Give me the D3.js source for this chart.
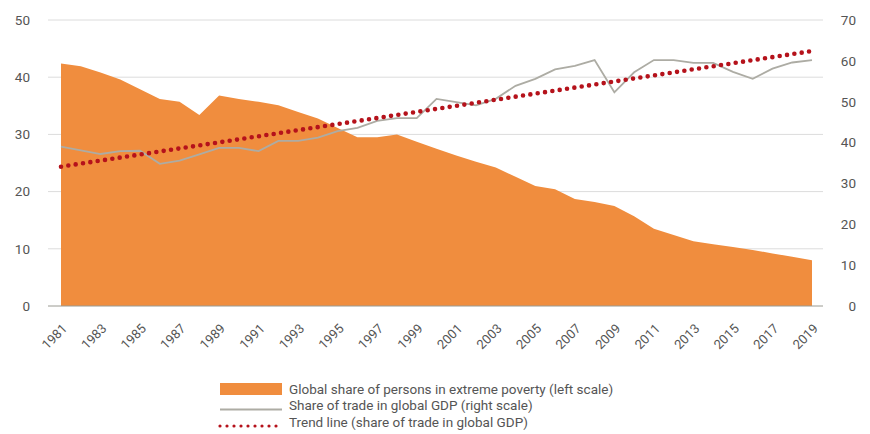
<!DOCTYPE html>
<html>
<head>
<meta charset="utf-8">
<script src="https://cdn.jsdelivr.net/npm/d3@7"></script>
<style>
	body { margin: 0; background: #fff; }
	text { font-family: Roboto, "DejaVu Sans", sans-serif; fill: #555; }
</style>
</head>
<body>
<div id="container"></div>
<script>
var width = 870, height = 434;

var years = [1981, 1982, 1983, 1984, 1985, 1986, 1987, 1988, 1989, 1990,
	1991, 1992, 1993, 1994, 1995, 1996, 1997, 1998, 1999, 2000,
	2001, 2002, 2003, 2004, 2005, 2006, 2007, 2008, 2009, 2010,
	2011, 2012, 2013, 2014, 2015, 2016, 2017, 2018, 2019];

// global share of persons in extreme poverty, left scale (%)
var poverty = [42.4, 41.9, 40.8, 39.6, 37.9, 36.2, 35.7, 33.4, 36.8, 36.2,
	35.7, 35.1, 33.9, 32.8, 31.1, 29.5, 29.5, 30.0, 28.7, 27.5,
	26.3, 25.2, 24.2, 22.6, 21.0, 20.4, 18.7, 18.2, 17.5, 15.7,
	13.5, 12.4, 11.3, 10.8, 10.3, 9.8, 9.2, 8.6, 8.0];

// share of trade in global GDP, right scale (%)
var trade = [39.0, 38.1, 37.2, 37.9, 38.0, 34.8, 35.6, 37.1, 38.7, 38.7,
	37.9, 40.4, 40.4, 41.2, 42.8, 43.6, 45.3, 46.0, 46.0, 50.7,
	49.9, 49.1, 50.7, 53.9, 55.6, 57.9, 58.8, 60.2, 52.3, 57.2,
	60.2, 60.2, 59.5, 59.5, 57.3, 55.6, 58.1, 59.6, 60.2];

// trend line end points (right scale)
var trendYears = [1981, 2019];
var trendValues = [34.1, 62.4];

var leftTicks = [0, 10, 20, 30, 40, 50];
var rightTicks = [0, 10, 20, 30, 40, 50, 60, 70];
var xTicks = years.filter(function(y){ return y % 2 === 1; });

var legendLabels = [
	"Global share of persons in extreme poverty (left scale)",
	"Share of trade in global GDP (right scale)",
	"Trend line (share of trade in global GDP)"
];

var orange = "#f08d3e", grey = "#adaca4", red = "#b5121b";

var xScale = d3.scaleLinear().domain([1981, 2019]).range([61, 812]);
var yLeft = d3.scaleLinear().domain([0, 50]).range([306, 20]);
var yRight = d3.scaleLinear().domain([0, 70]).range([306, 20]);

var plotLeft = 48, plotRight = 823;

function visualize() {
	var svg = d3.select('#container')
		.append('svg')
		.attr('width', width)
		.attr('height', height);

	// grid lines
	svg.append('g').selectAll('line').data(leftTicks.slice(1)).enter()
		.append('line')
		.attr('x1', plotLeft).attr('x2', plotRight)
		.attr('y1', function(d){ return yLeft(d); })
		.attr('y2', function(d){ return yLeft(d); })
		.attr('stroke', '#dcdcdc')
		.attr('stroke-width', 1);

	// poverty area
	var area = d3.area()
		.x(function(d, i){ return xScale(years[i]); })
		.y0(yLeft(0))
		.y1(function(d){ return yLeft(d); });
	svg.append('path')
		.attr('d', area(poverty))
		.attr('fill', orange);

	// baseline
	svg.append('line')
		.attr('x1', plotLeft).attr('x2', plotRight)
		.attr('y1', yLeft(0)).attr('y2', yLeft(0))
		.attr('stroke', '#9a9a92')
		.attr('stroke-width', 1);

	// trade line
	var line = d3.line()
		.x(function(d, i){ return xScale(years[i]); })
		.y(function(d){ return yRight(d); });
	svg.append('path')
		.attr('d', line(trade))
		.attr('fill', 'none')
		.attr('stroke', grey)
		.attr('stroke-width', 1.8);

	// trend line
	var trendLine = d3.line()
		.x(function(d, i){ return xScale(trendYears[i]); })
		.y(function(d){ return yRight(d); });
	svg.append('path')
		.attr('d', trendLine(trendValues))
		.attr('fill', 'none')
		.attr('stroke', red)
		.attr('stroke-width', 4.6)
		.attr('stroke-linecap', 'round')
		.attr('stroke-dasharray', '0 7.42');

	// left axis
	var yAxisL = d3.axisLeft(yLeft).tickValues(leftTicks).tickSize(0).tickPadding(0);
	var gl = svg.append('g')
		.attr('transform', 'translate(30,0)')
		.call(yAxisL);
	gl.select('.domain').remove();
	gl.selectAll('text').style('font-size', '13.5px').attr('fill', '#555');

	// right axis
	var yAxisR = d3.axisRight(yRight).tickValues(rightTicks).tickSize(0).tickPadding(0);
	var gr = svg.append('g')
		.attr('transform', 'translate(856,0)')
		.call(yAxisR);
	gr.select('.domain').remove();
	gr.selectAll('text').style('font-size', '13.5px').attr('fill', '#555')
		.attr('text-anchor', 'end');

	// x axis
	var xAxis = d3.axisBottom(xScale).tickValues(xTicks).tickFormat(d3.format('d')).tickSize(0);
	var gx = svg.append('g')
		.attr('transform', 'translate(0,' + yLeft(0) + ')')
		.call(xAxis);
	gx.select('.domain').remove();
	gx.selectAll('text')
		.style('font-size', '13px')
		.attr('fill', '#555')
		.attr('text-anchor', 'end')
		.attr('dy', null)
		.attr('y', 0)
		.attr('transform', 'translate(4,21) rotate(-45)')
		.attr('dominant-baseline', 'middle');

	// legend
	var lg = svg.append('g').attr('transform', 'translate(220,389)');
	lg.append('rect')
		.attr('x', 0).attr('y', -6)
		.attr('width', 62).attr('height', 12)
		.attr('fill', orange);
	lg.append('line')
		.attr('x1', 0).attr('x2', 62)
		.attr('y1', 20.5).attr('y2', 20.5)
		.attr('stroke', grey).attr('stroke-width', 1.8);
	lg.append('line')
		.attr('x1', 0).attr('x2', 62)
		.attr('y1', 37).attr('y2', 37)
		.attr('stroke', red).attr('stroke-width', 3.2)
		.attr('stroke-linecap', 'round')
		.attr('stroke-dasharray', '0 7');
	lg.selectAll('text').data(legendLabels).enter()
		.append('text')
		.attr('x', 69)
		.attr('y', function(d, i){ return i * 16.5; })
		.attr('dy', '0.35em')
		.style('font-size', '13.5px')
		.attr('fill', '#444')
		.text(function(d){ return d; });
}

window.onload = visualize;
</script>
</body>
</html>
